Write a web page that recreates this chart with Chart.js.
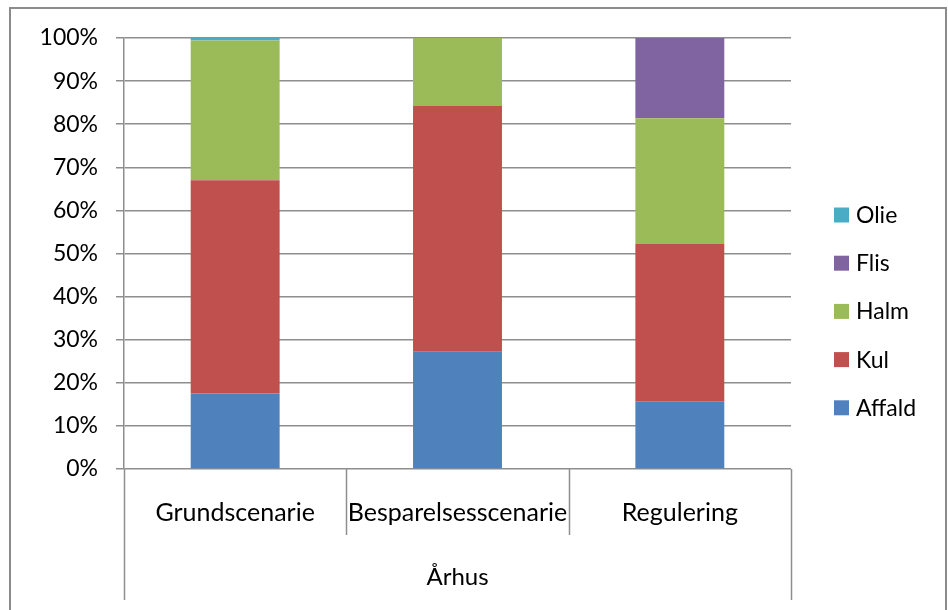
<!DOCTYPE html>
<html>
<head>
<meta charset="utf-8">
<script src="https://cdn.jsdelivr.net/npm/chart.js@4/dist/chart.umd.min.js"></script>
<style>
  html, body { margin: 0; padding: 0; background: #ffffff; }
  #wrap { width: 948px; height: 610px; }
</style>
</head>
<body>
<div id="wrap"><canvas id="c" width="948" height="610"></canvas></div>
<script>
// Fuel shares (%) per scenario
const categories = ['Grundscenarie', 'Besparelsesscenarie', 'Regulering'];
const groupLabel = 'Århus';
const affald = [17.5, 27.2, 15.7];
const kul    = [49.5, 57.0, 36.5];
const halm   = [32.4, 15.8, 29.2];
const flis   = [0.0, 0.0, 18.6];
const olie   = [0.6, 0.0, 0.0];
const yTickValues = [0, 10, 20, 30, 40, 50, 60, 70, 80, 90, 100];

const FONT = "Lato, 'Open Sans', sans-serif";
const GRID = '#8e8e8e';

const seriesDefs = [
  { label: 'Affald', data: affald, color: '#4F81BD' },
  { label: 'Kul',    data: kul,    color: '#C0504D' },
  { label: 'Halm',   data: halm,   color: '#9BBB59' },
  { label: 'Flis',   data: flis,   color: '#8064A2' },
  { label: 'Olie',   data: olie,   color: '#4BACC6' }
];

const frame = {
  id: 'frame',
  beforeDraw(chart) {
    const ctx = chart.ctx;
    ctx.save();
    ctx.fillStyle = '#ffffff';
    ctx.fillRect(0, 0, chart.width, chart.height);
    ctx.strokeStyle = '#8b8b8b';
    ctx.lineWidth = 2;
    ctx.strokeRect(10, 8, 936, 620);
    ctx.restore();
  },
  afterDraw(chart) {
    const ctx = chart.ctx;
    const a = chart.chartArea;
    const n = categories.length;
    const w = (a.right - a.left) / n;
    ctx.save();
    ctx.strokeStyle = GRID;
    ctx.lineWidth = 1.5;
    // category boundaries below the axis; outer ones span the group row too
    for (let i = 0; i <= n; i++) {
      const x = Math.round(a.left + i * w) + 0.5;
      const outer = (i === 0 || i === n);
      ctx.beginPath();
      ctx.moveTo(x, a.bottom);
      ctx.lineTo(x, a.bottom + (outer ? 131 : 66));
      ctx.stroke();
    }
    // group label
    ctx.fillStyle = '#000000';
    ctx.font = '24px ' + FONT;
    ctx.textAlign = 'center';
    ctx.textBaseline = 'middle';
    ctx.fillText(groupLabel, (a.left + a.right) / 2, 577);

    // legend, listed top-down in reverse stacking order
    const items = chart.data.datasets.slice().reverse();
    ctx.font = '23px ' + FONT;
    ctx.textAlign = 'left';
    items.forEach((ds, k) => {
      const cy = 214.5 + k * 48.2;
      ctx.fillStyle = ds.backgroundColor;
      ctx.fillRect(834, cy - 7, 15, 15);
      ctx.fillStyle = '#000000';
      ctx.fillText(ds.label, 856, cy + 1);
    });
    ctx.restore();
  }
};

new Chart(document.getElementById('c'), {
  type: 'bar',
  data: {
    labels: categories,
    datasets: seriesDefs.map(s => ({
      label: s.label,
      data: s.data,
      backgroundColor: s.color,
      borderWidth: 0,
      barPercentage: 0.4,
      categoryPercentage: 1.0
    }))
  },
  options: {
    responsive: false,
    animation: false,
    layout: { padding: { left: 0, top: 38, right: 157, bottom: 0 } },
    plugins: { legend: { display: false }, tooltip: { enabled: false } },
    scales: {
      x: {
        stacked: true,
        grid: { display: false, drawTicks: false },
        border: { display: false },
        ticks: { color: '#000000', font: { family: FONT, size: 25 }, padding: 29, maxRotation: 0, minRotation: 0, autoSkip: false },
        afterFit(scale) { scale.height = 141; }
      },
      y: {
        stacked: true,
        min: 0,
        max: 100,
        afterBuildTicks(scale) { scale.ticks = yTickValues.map(v => ({ value: v })); },
        grid: { color: GRID, lineWidth: 1.5, tickLength: 8, drawTicks: true },
        border: { display: true, color: GRID, width: 1.5 },
        ticks: { color: '#000000', font: { family: FONT, size: 23 }, padding: 18, callback: v => v + '%' },
        afterFit(scale) { scale.width = 124; }
      }
    }
  },
  plugins: [frame]
});
</script>
</body>
</html>
